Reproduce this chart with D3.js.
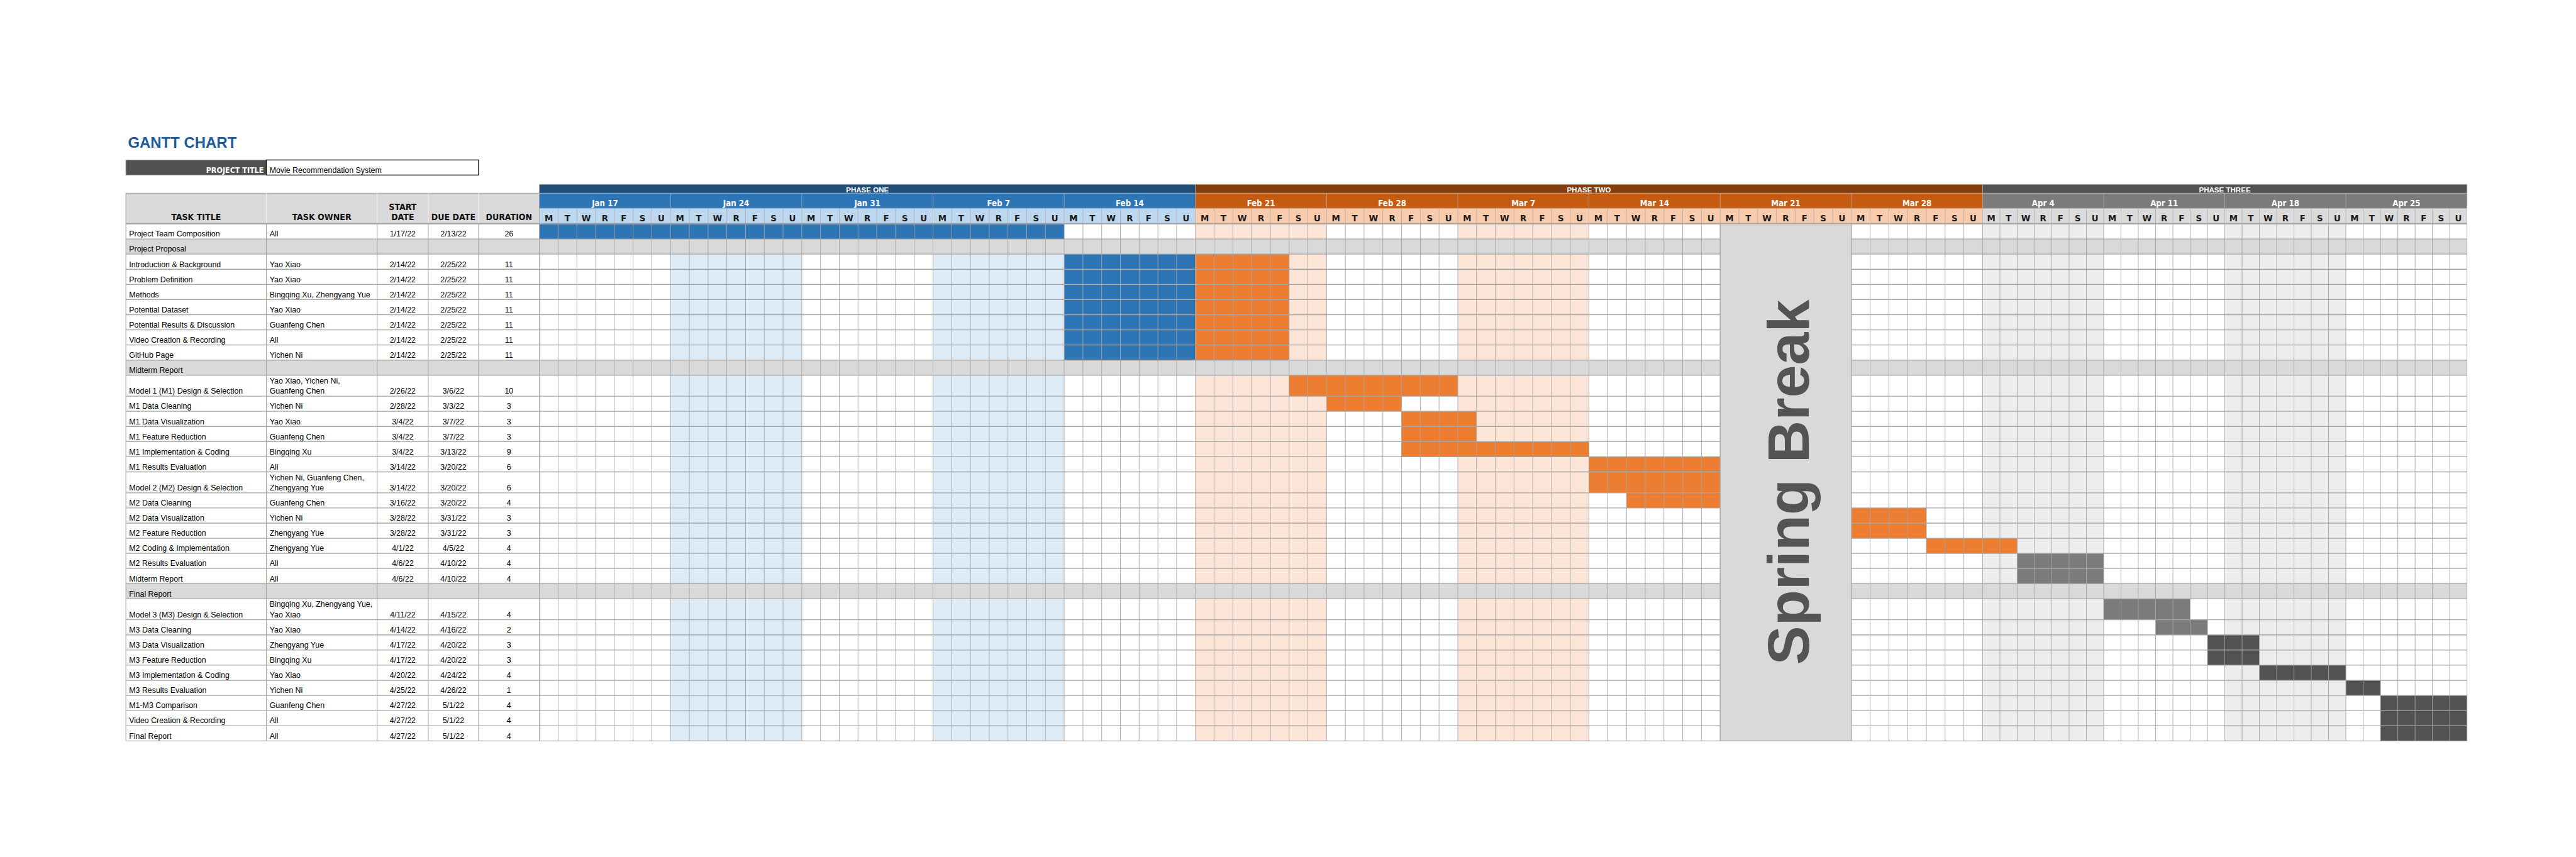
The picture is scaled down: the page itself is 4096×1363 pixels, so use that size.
<!DOCTYPE html>
<html><head><meta charset="utf-8">
<script src="https://cdn.jsdelivr.net/npm/d3@7"></script>
<style>html,body{margin:0;padding:0;background:#fff;overflow:hidden}</style>
</head><body>
<svg id="chart" width="4096" height="1363" viewBox="0 0 4958 1650"></svg>
<script>
// ---------------- DATA ----------------
const chartTitle = "GANTT CHART";
const projectLabel = "PROJECT TITLE";
const projectName = "Movie Recommendation System";
const tableHeaders = [["TASK TITLE"], ["TASK OWNER"], ["START", "DATE"], ["DUE DATE"], ["DURATION"]];

const taskTitles = ["Project Team Composition","Project Proposal","Introduction & Background","Problem Definition","Methods","Potential Dataset","Potential Results & Discussion","Video Creation & Recording","GitHub Page","Midterm Report","Model 1 (M1) Design & Selection","M1 Data Cleaning","M1 Data Visualization","M1 Feature Reduction","M1 Implementation & Coding","M1 Results Evaluation","Model 2 (M2) Design & Selection","M2 Data Cleaning","M2 Data Visualization","M2 Feature Reduction","M2 Coding & Implementation","M2 Results Evaluation","Midterm Report","Final Report","Model 3 (M3) Design & Selection","M3 Data Cleaning","M3 Data Visualization","M3 Feature Reduction","M3 Implementation & Coding","M3 Results Evaluation","M1-M3 Comparison","Video Creation & Recording","Final Report"];
const rowKinds = ["task","section","task","task","task","task","task","task","task","section","task","task","task","task","task","task","task","task","task","task","task","task","task","section","task","task","task","task","task","task","task","task","task"];
const taskOwners = ["All","","Yao Xiao","Yao Xiao","Bingqing Xu, Zhengyang Yue","Yao Xiao","Guanfeng Chen","All","Yichen Ni","","Yao Xiao, Yichen Ni,\nGuanfeng Chen","Yichen Ni","Yao Xiao","Guanfeng Chen","Bingqing Xu","All","Yichen Ni, Guanfeng Chen,\nZhengyang Yue","Guanfeng Chen","Yichen Ni","Zhengyang Yue","Zhengyang Yue","All","All","","Bingqing Xu, Zhengyang Yue,\nYao Xiao","Yao Xiao","Zhengyang Yue","Bingqing Xu","Yao Xiao","Yichen Ni","Guanfeng Chen","All","All"];
const startDates = ["1/17/22","","2/14/22","2/14/22","2/14/22","2/14/22","2/14/22","2/14/22","2/14/22","","2/26/22","2/28/22","3/4/22","3/4/22","3/4/22","3/14/22","3/14/22","3/16/22","3/28/22","3/28/22","4/1/22","4/6/22","4/6/22","","4/11/22","4/14/22","4/17/22","4/17/22","4/20/22","4/25/22","4/27/22","4/27/22","4/27/22"];
const dueDates = ["2/13/22","","2/25/22","2/25/22","2/25/22","2/25/22","2/25/22","2/25/22","2/25/22","","3/6/22","3/3/22","3/7/22","3/7/22","3/13/22","3/20/22","3/20/22","3/20/22","3/31/22","3/31/22","4/5/22","4/10/22","4/10/22","","4/15/22","4/16/22","4/20/22","4/20/22","4/24/22","4/26/22","5/1/22","5/1/22","5/1/22"];
const durations = ["26","","11","11","11","11","11","11","11","","10","3","3","3","9","6","6","4","3","3","4","4","4","","4","2","3","3","4","1","4","4","4"];

// filled cells: [row, first day, last day, colour group]
const barSegments = [
  [0,"1/17/22","2/13/22","one"],
  [2,"2/14/22","2/20/22","one"],[2,"2/21/22","2/25/22","two"],
  [3,"2/14/22","2/20/22","one"],[3,"2/21/22","2/25/22","two"],
  [4,"2/14/22","2/20/22","one"],[4,"2/21/22","2/25/22","two"],
  [5,"2/14/22","2/20/22","one"],[5,"2/21/22","2/25/22","two"],
  [6,"2/14/22","2/20/22","one"],[6,"2/21/22","2/25/22","two"],
  [7,"2/14/22","2/20/22","one"],[7,"2/21/22","2/25/22","two"],
  [8,"2/14/22","2/20/22","one"],[8,"2/21/22","2/25/22","two"],
  [10,"2/26/22","3/6/22","two"],
  [11,"2/28/22","3/3/22","two"],
  [12,"3/4/22","3/7/22","two"],
  [13,"3/4/22","3/7/22","two"],
  [14,"3/4/22","3/13/22","two"],
  [15,"3/14/22","3/20/22","two"],
  [16,"3/14/22","3/20/22","two"],
  [17,"3/16/22","3/20/22","two"],
  [18,"3/28/22","3/31/22","two"],
  [19,"3/28/22","3/31/22","two"],
  [20,"4/1/22","4/5/22","two"],
  [21,"4/6/22","4/10/22","three"],
  [22,"4/6/22","4/10/22","three"],
  [24,"4/11/22","4/15/22","three"],
  [25,"4/14/22","4/16/22","three"],
  [26,"4/17/22","4/19/22","threeDark"],
  [27,"4/17/22","4/19/22","threeDark"],
  [28,"4/20/22","4/24/22","threeDark"],
  [29,"4/25/22","4/26/22","threeDark"],
  [30,"4/27/22","5/1/22","threeDark"],
  [31,"4/27/22","5/1/22","threeDark"],
  [32,"4/27/22","5/1/22","threeDark"]
];

const ganttStart = "1/17/22";
const weekLabels = ["Jan 17","Jan 24","Jan 31","Feb 7","Feb 14","Feb 21","Feb 28","Mar 7","Mar 14","Mar 21","Mar 28","Apr 4","Apr 11","Apr 18","Apr 25"];
const dayLetters = ["M","T","W","R","F","S","U"];
const phaseLabels = ["PHASE ONE","PHASE TWO","PHASE THREE"];
const phaseKeys = ["one","two","three"];
const phaseWeekCounts = [5, 6, 4];
const shadedWeeks = [1, 3, 5, 7, 11, 13];
const breakWeek = 9;
const breakLabel = "Spring Break";

// ---------------- STYLE ----------------
const FONT = "'Liberation Sans', Arial, sans-serif";
const NARROW = "'Liberation Sans Narrow', 'Arial Narrow', 'DejaVu Sans Condensed', sans-serif";
const GRID = "#a6a6a6";
const phaseDark = {one:"#1F4E79", two:"#843C0C", three:"#525252"};
const weekFill  = {one:"#2E75B6", two:"#C55A11", three:"#7B7B7B"};
const dayFill   = {one:"#BDD7EE", two:"#F8CBAD", three:"#DBDBDB"};
const shadeFill = {one:"#DDEBF7", two:"#FCE4D6", three:"#EDEDED"};
const barFill   = {one:"#2E75B6", two:"#ED7D31", three:"#7B7B7B", threeDark:"#525252"};

// ---------------- LAYOUT ----------------
const svg = d3.select("#chart");
const colX = [242, 512.4, 725.8, 824.1, 920.9, 1038];
const phaseTop = 355, weekTop = 372, dayTop = 401, headBottom = 430.5, bodyTop = 431;
const nRows = taskTitles.length;
const rowH = taskOwners.map(o => o.includes("\n") ? 40.3 : 29.15);
const rowY = [];
rowH.reduce((acc, h, i) => { rowY[i] = acc; return acc + h; }, bodyTop);
const bodyBottom = rowY[nRows - 1] + rowH[nRows - 1];

const parse = d3.timeParse("%m/%d/%y");
const origin = parse(ganttStart);
const dayOf = s => d3.timeDay.count(origin, parse(s));
const nDays = weekLabels.length * 7;
const phaseBounds = [0, ...Array.from(d3.cumsum(phaseWeekCounts))];
const x = d3.scaleLinear()
  .domain([0, phaseBounds[2] * 7, nDays])
  .range([1038, 3816, 4748.4]);
const weekPhase = w => phaseKeys[Math.min(d3.bisectRight(phaseBounds, w) - 1, phaseKeys.length - 1)];
const gLeft = x(0), gRight = x(nDays);

// ---------------- TITLE ----------------
svg.append("text").attr("x", 246).attr("y", 284).text(chartTitle)
  .attr("font-family", FONT).attr("font-weight", "bold").attr("font-size", 29).attr("fill", "#1F5B98");

svg.append("rect").attr("x", colX[0]).attr("y", 308).attr("width", colX[1] - colX[0]).attr("height", 29)
  .attr("fill", "#515151").attr("stroke", "#9a9a9a").attr("stroke-width", 1.2);
svg.append("text").attr("x", colX[1] - 5).attr("y", 332.5).attr("text-anchor", "end").text(projectLabel)
  .attr("font-family", NARROW).attr("font-weight", "bold").attr("font-size", 15).attr("fill", "#fff");
svg.append("rect").attr("x", colX[1]).attr("y", 308).attr("width", 921 - colX[1]).attr("height", 29)
  .attr("fill", "#fff").attr("stroke", "#000").attr("stroke-width", 1.6);
svg.append("text").attr("x", colX[1] + 6.3).attr("y", 332.5).text(projectName)
  .attr("font-family", FONT).attr("font-size", 15).attr("fill", "#000");

// ---------------- TABLE HEADER ----------------
svg.append("rect").attr("x", colX[0]).attr("y", weekTop).attr("width", colX[5] - colX[0]).attr("height", headBottom - weekTop)
  .attr("fill", "#D9D9D9").attr("stroke", GRID).attr("stroke-width", 1.3);
tableHeaders.forEach((lines, c) => {
  const cx = (colX[c] + colX[c + 1]) / 2;
  lines.forEach((t, k) => {
    svg.append("text").attr("x", cx).attr("y", 424 - (lines.length - 1 - k) * 20)
      .attr("text-anchor", "middle").text(t)
      .attr("font-family", NARROW).attr("font-weight", "bold").attr("font-size", 17).attr("fill", "#111");
  });
});
svg.append("g").selectAll("line").data(colX.slice(1, 5)).join("line")
  .attr("x1", d => d).attr("x2", d => d).attr("y1", weekTop).attr("y2", headBottom)
  .attr("stroke", "#eeeeee").attr("stroke-width", 1.5);

// ---------------- TABLE BODY ----------------
const body = svg.append("g");
body.selectAll("rect.sec").data(d3.range(nRows).filter(i => rowKinds[i] === "section")).join("rect")
  .attr("x", colX[0]).attr("y", i => rowY[i]).attr("width", colX[5] - colX[0]).attr("height", i => rowH[i])
  .attr("fill", "#D9D9D9");

function cellText(i, txt, xPos, anchor) {
  const lines = txt.split("\n");
  const base = rowY[i] + rowH[i] - 4.5;
  lines.forEach((t, k) => {
    body.append("text").attr("x", xPos).attr("y", base - (lines.length - 1 - k) * 20)
      .attr("text-anchor", anchor).text(t)
      .attr("font-family", FONT).attr("font-size", 15).attr("fill", "#000");
  });
}
d3.range(nRows).forEach(i => {
  cellText(i, taskTitles[i], colX[0] + 6.3, "start");
  if (taskOwners[i]) cellText(i, taskOwners[i], colX[1] + 6.3, "start");
  if (startDates[i]) cellText(i, startDates[i], (colX[2] + colX[3]) / 2, "middle");
  if (dueDates[i]) cellText(i, dueDates[i], (colX[3] + colX[4]) / 2, "middle");
  if (durations[i]) cellText(i, durations[i], (colX[4] + colX[5]) / 2, "middle");
});

// ---------------- GANTT HEADER ----------------
const head = svg.append("g");
phaseLabels.forEach((lab, p) => {
  const x0 = x(phaseBounds[p] * 7), x1 = x(phaseBounds[p + 1] * 7);
  head.append("rect").attr("x", x0).attr("y", phaseTop).attr("width", x1 - x0).attr("height", weekTop - phaseTop)
    .attr("fill", phaseDark[phaseKeys[p]]);
  head.append("text").attr("x", (x0 + x1) / 2).attr("y", 370.3).attr("text-anchor", "middle").text(lab)
    .attr("font-family", FONT).attr("font-weight", "bold").attr("font-size", 14).attr("fill", "#fff");
});
weekLabels.forEach((lab, w) => {
  const ph = weekPhase(w);
  const x0 = x(w * 7), x1 = x(w * 7 + 7);
  head.append("rect").attr("x", x0).attr("y", weekTop).attr("width", x1 - x0).attr("height", dayTop - weekTop)
    .attr("fill", weekFill[ph]);
  head.append("text").attr("x", (x0 + x1) / 2).attr("y", 397.3).attr("text-anchor", "middle").text(lab)
    .attr("font-family", NARROW).attr("font-weight", "bold").attr("font-size", 16).attr("fill", "#fff");
  head.append("rect").attr("x", x0).attr("y", dayTop).attr("width", x1 - x0).attr("height", headBottom - dayTop)
    .attr("fill", dayFill[ph]);
  dayLetters.forEach((d, k) => {
    head.append("text").attr("x", (x(w * 7 + k) + x(w * 7 + k + 1)) / 2).attr("y", 426.5)
      .attr("text-anchor", "middle").text(d)
      .attr("font-family", NARROW).attr("font-weight", "bold").attr("font-size", 18).attr("fill", "#1a1a1a");
  });
});
head.selectAll("line.d").data(d3.range(0, nDays + 1)).join("line")
  .attr("x1", d => x(d)).attr("x2", d => x(d)).attr("y1", dayTop).attr("y2", headBottom)
  .attr("stroke", GRID).attr("stroke-width", 1.1).attr("stroke-opacity", 0.75);
head.selectAll("line.w").data(d3.range(0, weekLabels.length + 1)).join("line")
  .attr("x1", d => x(d * 7)).attr("x2", d => x(d * 7)).attr("y1", weekTop).attr("y2", dayTop)
  .attr("stroke", GRID).attr("stroke-width", 1.1).attr("stroke-opacity", 0.75);
head.selectAll("line.p").data(phaseBounds).join("line")
  .attr("x1", d => x(d * 7)).attr("x2", d => x(d * 7)).attr("y1", phaseTop).attr("y2", weekTop)
  .attr("stroke", GRID).attr("stroke-width", 1.1);
head.selectAll("line.h").data([phaseTop, weekTop, dayTop]).join("line")
  .attr("x1", gLeft).attr("x2", gRight).attr("y1", d => d).attr("y2", d => d)
  .attr("stroke", GRID).attr("stroke-width", 1.3);

// ---------------- GANTT BODY ----------------
const gb = svg.append("g");
const cells = [];
d3.range(nRows).forEach(i => weekLabels.forEach((lab, w) => cells.push({i, w})));
gb.selectAll("rect.bg").data(cells).join("rect")
  .attr("x", d => x(d.w * 7)).attr("y", d => rowY[d.i])
  .attr("width", d => x(d.w * 7 + 7) - x(d.w * 7)).attr("height", d => rowH[d.i])
  .attr("fill", d => rowKinds[d.i] === "section" ? "#D9D9D9"
    : (shadedWeeks.includes(d.w) ? shadeFill[weekPhase(d.w)] : "#FFFFFF"));

gb.selectAll("rect.bar").data(barSegments).join("rect")
  .attr("x", d => x(dayOf(d[1]))).attr("y", d => rowY[d[0]])
  .attr("width", d => x(dayOf(d[2]) + 1) - x(dayOf(d[1]))).attr("height", d => rowH[d[0]])
  .attr("fill", d => barFill[d[3]]);

// grid
gb.selectAll("line.v").data(d3.range(0, nDays + 1)).join("line")
  .attr("x1", d => x(d)).attr("x2", d => x(d)).attr("y1", bodyTop).attr("y2", bodyBottom)
  .attr("stroke", GRID).attr("stroke-width", 1.1);
const hLines = [bodyTop, ...rowY.slice(1), bodyBottom];
gb.selectAll("line.h").data(hLines).join("line")
  .attr("x1", colX[0]).attr("x2", gRight).attr("y1", d => d).attr("y2", d => d)
  .attr("stroke", GRID).attr("stroke-width", 1.6);
gb.selectAll("line.tv").data(colX).join("line")
  .attr("x1", d => d).attr("x2", d => d).attr("y1", bodyTop).attr("y2", bodyBottom)
  .attr("stroke", GRID).attr("stroke-width", 1.3);
gb.append("line").attr("x1", colX[0]).attr("x2", gRight).attr("y1", headBottom).attr("y2", headBottom)
  .attr("stroke", GRID).attr("stroke-width", 2);

// spring break block
const bx0 = x(breakWeek * 7), bx1 = x(breakWeek * 7 + 7);
gb.append("rect").attr("x", bx0).attr("y", bodyTop).attr("width", bx1 - bx0).attr("height", bodyBottom - bodyTop)
  .attr("fill", "#D9D9D9").attr("stroke", GRID).attr("stroke-width", 1.4);
gb.append("text")
  .attr("transform", `translate(${bx0 + (bx1 - bx0) * 0.675},${(bodyTop + bodyBottom) / 2}) rotate(-90)`)
  .attr("text-anchor", "middle").text(breakLabel)
  .attr("font-family", FONT).attr("font-weight", "bold").attr("font-size", 113).attr("fill", "#545454");
</script>
</body></html>
